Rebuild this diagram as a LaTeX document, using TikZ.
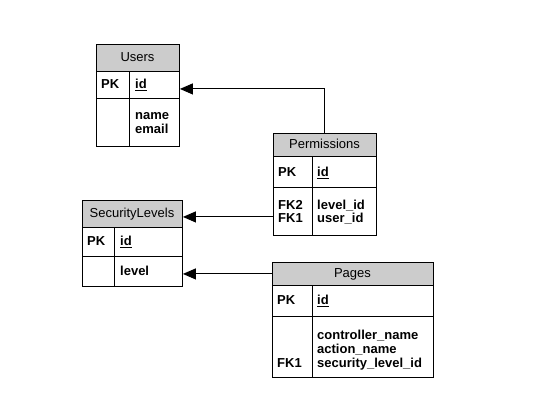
\documentclass[tikz,border=0pt]{standalone}
\usepackage{fontspec}
\setmainfont{Liberation Sans}
\usetikzlibrary{arrows.meta}
\definecolor{hdrgray}{RGB}{204,204,204}
\begin{document}
\begin{tikzpicture}[x=1pt,y=-1pt,
  cell/.style={draw=black, line width=0.9pt, rectangle, inner sep=0pt, anchor=north west},
  hdr/.style={cell, fill=hdrgray},
  ttl/.style={font=\fontsize{13}{13.5}\selectfont, anchor=base, inner sep=0pt},
  txt/.style={font=\fontsize{13}{13.5}\selectfont\bfseries, anchor=base west, inner sep=0pt},
  fk/.style={draw=black, line width=1pt, -{Triangle[length=13pt,width=11pt]}}]
\useasboundingbox[fill=white] (0,0) rectangle (548,411);

% ---------- Users ----------
\node[hdr, minimum width=83pt, minimum height=27pt] (usersH) at (96,44) {};
\node[cell, minimum width=33pt, minimum height=27pt] (usersPKk) at (96,71) {};
\node[cell, minimum width=50pt, minimum height=27pt] (usersPK) at (129,71) {};
\node[cell, minimum width=33pt, minimum height=48pt] (usersBk) at (96,98) {};
\node[cell, minimum width=50pt, minimum height=48pt] (usersB) at (129,98) {};
\node[ttl] (usersT) at (137.5,62) {Users};
\node[txt] (usersPKt) at (101,89) {PK};
\node[txt] (usersId) at (135,89) {\underline{id}};
\node[txt] (usersName) at (135,120) {name};
\node[txt] (usersEmail) at (135,133.3) {email};

% ---------- Permissions ----------
\node[hdr, minimum width=103pt, minimum height=23pt] (permH) at (273,133) {};
\node[cell, minimum width=39pt, minimum height=31pt] (permPKk) at (273,156) {};
\node[cell, minimum width=64pt, minimum height=31pt] (permPK) at (312,156) {};
\node[cell, minimum width=39pt, minimum height=48pt] (permBk) at (273,187) {};
\node[cell, minimum width=64pt, minimum height=48pt] (permB) at (312,187) {};
\node[ttl] (permT) at (324.5,149) {Permissions};
\node[txt] (permPKt) at (278,177) {PK};
\node[txt] (permId) at (317,177) {\underline{id}};
\node[txt] (permFK2) at (278,210) {FK2};
\node[txt] (permLevel) at (317,210) {level\_id};
\node[txt] (permFK1) at (278,223) {FK1};
\node[txt] (permUser) at (317,223) {user\_id};

% ---------- SecurityLevels ----------
\node[hdr, minimum width=100pt, minimum height=27pt] (slH) at (82,200) {};
\node[cell, minimum width=32pt, minimum height=29pt] (slPKk) at (82,227) {};
\node[cell, minimum width=68pt, minimum height=29pt] (slPK) at (114,227) {};
\node[cell, minimum width=32pt, minimum height=30pt] (slBk) at (82,256) {};
\node[cell, minimum width=68pt, minimum height=30pt] (slB) at (114,256) {};
\node[ttl] (slT) at (132,218) {SecurityLevels};
\node[txt] (slPKt) at (87,246) {PK};
\node[txt] (slId) at (120,246) {\underline{id}};
\node[txt] (slLevel) at (120,276) {level};

% ---------- Pages ----------
\node[hdr, minimum width=161pt, minimum height=23pt] (pagesH) at (272,262) {};
\node[cell, minimum width=40pt, minimum height=31pt] (pagesPKk) at (272,285) {};
\node[cell, minimum width=121pt, minimum height=31pt] (pagesPK) at (312,285) {};
\node[cell, minimum width=40pt, minimum height=61pt] (pagesBk) at (272,316) {};
\node[cell, minimum width=121pt, minimum height=61pt] (pagesB) at (312,316) {};
\node[ttl] (pagesT) at (352.5,278) {Pages};
\node[txt] (pagesPKt) at (277,305) {PK};
\node[txt] (pagesId) at (317,305) {\underline{id}};
\node[txt] (pagesCtl) at (317,339) {controller\_name};
\node[txt] (pagesAct) at (317,353) {action\_name};
\node[txt] (pagesFK1) at (277,367.5) {FK1};
\node[txt] (pagesSec) at (317,367.5) {security\_level\_id};

% ---------- Connectors ----------
\coordinate (usersIn) at ([yshift=-4pt]usersPK.east);
\draw[fk] (permH.north) |- (usersIn);
\coordinate (slIn) at ([yshift=-3pt]slH.east);
\draw[fk] (permBk.west |- slIn) -- (slIn);
\draw[fk] (pagesH.west) -- (pagesH.west -| slB.east);
\end{tikzpicture}
\end{document}
